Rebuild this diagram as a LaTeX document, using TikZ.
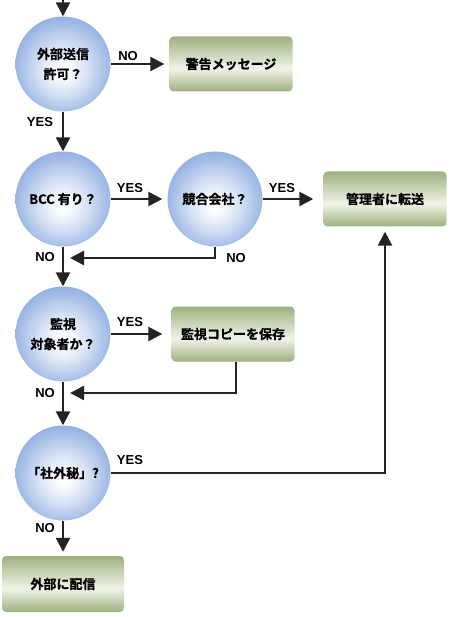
\documentclass[tikz,border=0pt]{standalone}
\usepackage{fontspec}
\setmainfont{Liberation Sans}
\newfontfamily\jp{Noto Sans CJK JP}[BoldFont={Noto Sans CJK JP Bold}, BoldFeatures={FakeBold=0.8}]
\usetikzlibrary{arrows.meta, positioning, calc}

\definecolor{ballblue}{RGB}{146,176,226}
\definecolor{boxgreen}{RGB}{156,177,126}
\definecolor{boxlight}{RGB}{240,244,232}
\definecolor{linegray}{RGB}{35,35,35}
\pgfdeclareradialshading{ball}{\pgfpoint{0bp}{-4bp}}{color(0bp)=(white); color(5bp)=(white!92!ballblue); color(13bp)=(white!62!ballblue); color(27bp)=(ballblue); color(50bp)=(ballblue)}
\pgfdeclareverticalshading{bar}{100bp}{color(0bp)=(boxgreen); color(25bp)=(boxgreen); color(46bp)=(boxlight); color(75bp)=(boxgreen); color(100bp)=(boxgreen)}

\begin{document}
\begin{tikzpicture}[
    x=1pt, y=-1pt,
    decision/.style={circle, shading=ball, minimum size=95pt, inner sep=0pt, align=center,
        font=\jp\bfseries\fontsize{13}{20}\selectfont},
    action/.style={rounded corners=4pt, shading=bar, minimum width=123pt, minimum height=55pt,
        font=\jp\bfseries\fontsize{13}{16}\selectfont},
    edge/.style={-{Triangle[length=14pt,width=14pt]}, line width=2.5pt, draw=linegray},
    yn/.style={inner sep=0pt, font=\bfseries\fontsize{13}{15}\selectfont}
]
\useasboundingbox (0,0) rectangle (450,617);

% decisions
\node[decision] (send) at (63,64) {外部送信\\許可？};
\node[decision] (bcc) at (63,199) {BCC 有り？};
\node[decision] (rival) at (215,199) {競合会社？};
\node[decision] (watch) at (63,334) {監視\\対象者か？};
\node[decision] (secret) at (63,473) {「社外秘」?};

% actions
\node[action] (warn) at (231,64) {警告メッセージ};
\node[action] (admin) at (385,199) {管理者に転送};
\node[action] (copy) at (233,334) {監視コピーを保存};
\node[action, minimum width=122pt, minimum height=56pt] (deliver) at (63,584) {外部に配信};

% free ends
\coordinate (start) at (63,0);
\coordinate (j1) at (70,258);
\coordinate (j2) at (70,393);

% flow
\draw[edge] (start) -- (send);
\draw[edge, shorten >=5pt] (send) -- (warn);
\draw[edge] (send) -- (bcc);
\draw[edge, shorten >=5pt] (bcc) -- (rival);
\draw[edge, shorten >=10pt] (rival) -- (admin);
\draw[edge] (bcc) -- (watch);
\draw[edge] (rival) |- (j1);
\draw[edge, shorten >=9pt] (watch) -- (copy);
\draw[edge] ([xshift=3pt]copy.south) |- (j2);
\draw[edge] (watch) -- (secret);
\draw[edge, shorten >=5pt] (secret) -| (admin);
\draw[edge, shorten >=4pt] (secret) -- (deliver);

% labels
\node[yn] (no1) at (128,56) {NO};
\node[yn] (yes1) at (40,122) {YES};
\node[yn] (yes2) at (130,188) {YES};
\node[yn] (yes3) at (282,188) {YES};
\node[yn] (no2) at (45,257) {NO};
\node[yn] (no3) at (236,258) {NO};
\node[yn] (yes4) at (130,322) {YES};
\node[yn] (no4) at (45,393) {NO};
\node[yn] (yes5) at (130,460) {YES};
\node[yn] (no5) at (45,528) {NO};

\end{tikzpicture}
\end{document}
